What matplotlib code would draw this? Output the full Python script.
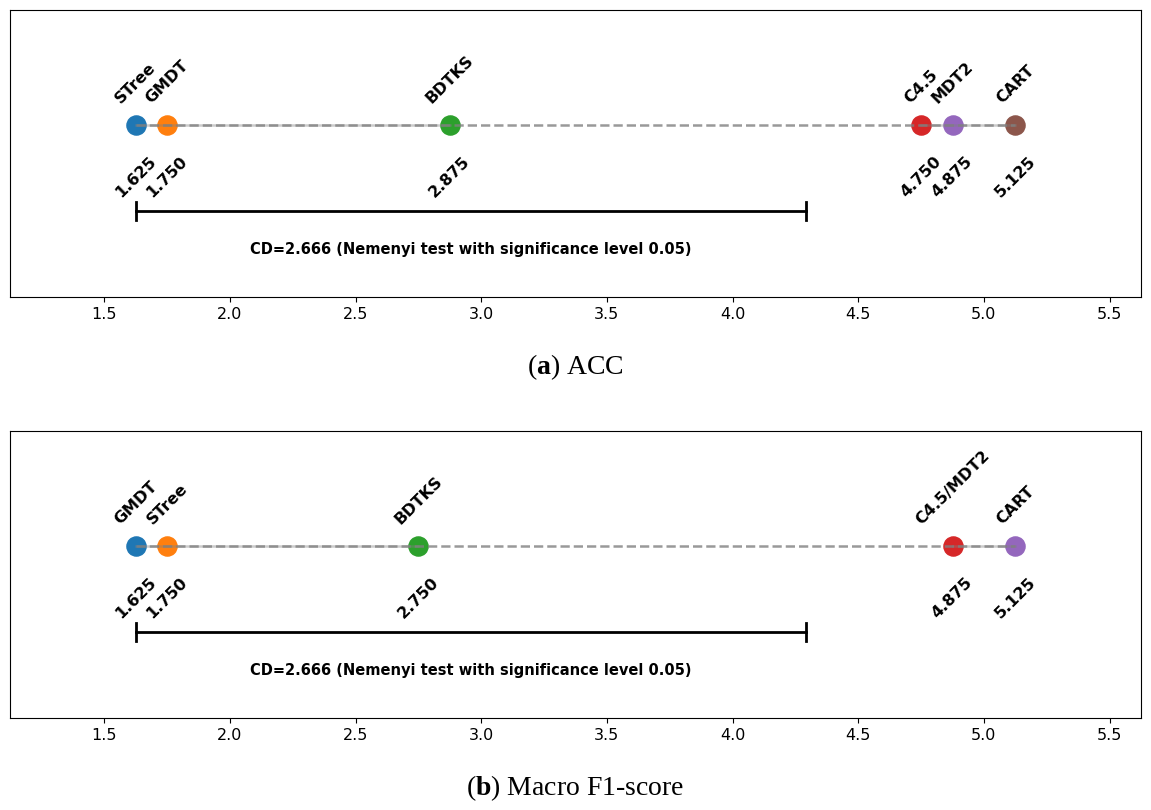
import matplotlib.pyplot as plt

plt.rcParams['mathtext.fontset'] = 'custom'
plt.rcParams['mathtext.rm'] = 'Liberation Serif'
plt.rcParams['mathtext.bf'] = 'Liberation Serif:bold'

# average ranks (a) ACC
names_a = ['STree', 'GMDT', 'BDTKS', 'C4.5', 'MDT2', 'CART']
ranks_a = [1.625, 1.750, 2.875, 4.750, 4.875, 5.125]
groups_a = [(1.625, 2.875), (4.750, 5.125)]

# average ranks (b) Macro F1 (C4.5 and MDT2 tie)
names_b = ['GMDT', 'STree', 'BDTKS', 'C4.5/MDT2', 'CART']
ranks_b = [1.625, 1.750, 2.750, 4.875, 5.125]
groups_b = [(1.625, 2.750), (4.875, 5.125)]

cd = 2.666
colors = ['tab:blue', 'tab:orange', 'tab:green', 'tab:red', 'tab:purple', 'tab:brown']

fig = plt.figure(figsize=(11.51, 8.10), dpi=100)
ax1 = fig.add_axes([10/1151, 1 - 297/810, 1131/1151, 287/810])
ax2 = fig.add_axes([10/1151, 1 - 718/810, 1131/1151, 287/810])


def cd_plot(ax, names, ranks, groups):
    y = 0.6
    lo, hi = min(ranks), max(ranks)
    for i, (n, r) in enumerate(zip(names, ranks)):
        ax.scatter(r, y, s=190, color=colors[i], zorder=2)
        ax.text(r, y + 0.065, n, rotation=45, ha='center', va='bottom',
                fontsize=11.5, fontweight='bold')
        ax.text(r, y - 0.1, f'{r:.3f}', rotation=45, ha='center', va='top',
                fontsize=11.5, fontweight='bold')
    # lines drawn on top of the markers
    ax.plot([lo, hi], [y, y], ls='--', c='grey', lw=1.8, alpha=0.8, zorder=3)
    for g0, g1 in groups:
        ax.plot([g0, g1], [y, y], ls='-', c='grey', lw=1.8, alpha=0.4, zorder=3)
    # critical difference bar
    ax.plot([lo, lo + cd], [0.3, 0.3], c='black', lw=2)
    ax.plot([lo, lo], [0.27, 0.33], c='black', lw=2)
    ax.plot([lo + cd, lo + cd], [0.27, 0.33], c='black', lw=2)
    ax.text(lo + cd / 2, 0.165, f'CD={cd:.3f} (Nemenyi test with significance level 0.05)',
            ha='center', va='center', fontsize=10.5, fontweight='bold')
    ax.set_xlim(lo - 0.5, hi + 0.5)
    ax.set_ylim(0, 1)
    ax.set_yticks([])
    ax.set_xticks([1.5, 2.0, 2.5, 3.0, 3.5, 4.0, 4.5, 5.0, 5.5])
    ax.tick_params(axis='x', labelsize=11.5)


cd_plot(ax1, names_a, ranks_a, groups_a)
cd_plot(ax2, names_b, ranks_b, groups_b)

fig.text(0.5, 1 - 367/810, r'($\mathbf{a}$) ACC', ha='center', va='center',
         family='Liberation Serif', fontsize=20)
fig.text(0.5, 1 - 788/810, r'($\mathbf{b}$) Macro F1-score', ha='center', va='center',
         family='Liberation Serif', fontsize=20)

fig.savefig('out.png', dpi=100)
